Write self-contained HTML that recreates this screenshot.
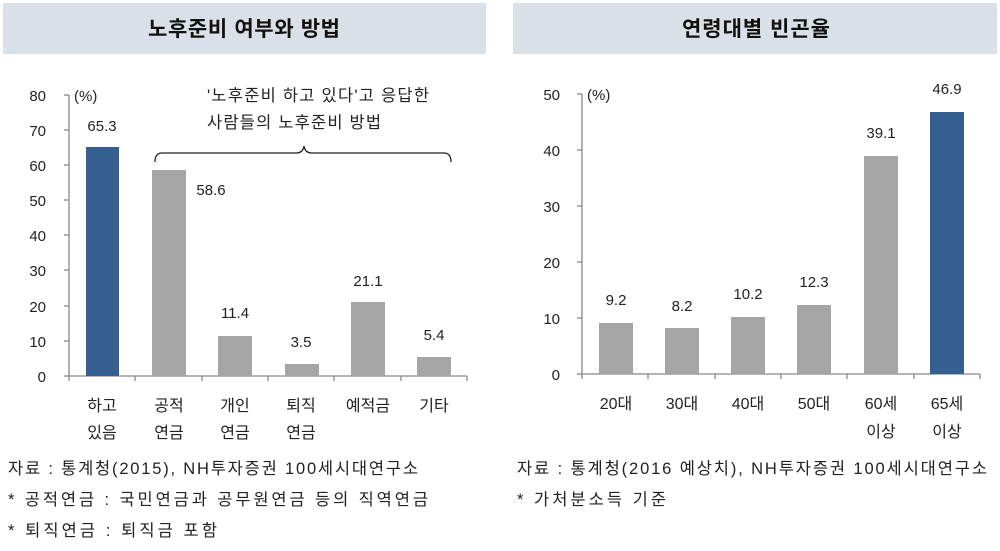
<!DOCTYPE html>
<html><head><meta charset="utf-8"><style>
body{margin:0;background:#fff;}
svg{display:block;}
</style></head><body>
<svg width="1000" height="551" xmlns="http://www.w3.org/2000/svg" font-family="'Liberation Sans','Noto Sans CJK KR',sans-serif">
<rect x="3" y="3" width="483" height="51" fill="#dae0e7"/>
<rect x="513" y="3" width="484" height="51" fill="#dae0e7"/>
<text x="148" y="36" font-size="21" font-weight="bold" fill="#111" textLength="192" lengthAdjust="spacing">노후준비 여부와 방법</text>
<text x="682" y="36" font-size="21" font-weight="bold" fill="#111" textLength="148" lengthAdjust="spacing">연령대별 빈곤율</text>
<g fill="#222" font-size="15">
<g stroke="#888" stroke-width="1.3">
<line x1="69" y1="95" x2="69" y2="376"/><line x1="69" y1="376" x2="467" y2="376"/>
<line x1="64" y1="95" x2="69" y2="95"/><line x1="64" y1="130" x2="69" y2="130"/><line x1="64" y1="165" x2="69" y2="165"/><line x1="64" y1="200" x2="69" y2="200"/><line x1="64" y1="235" x2="69" y2="235"/><line x1="64" y1="270" x2="69" y2="270"/><line x1="64" y1="306" x2="69" y2="306"/><line x1="64" y1="341" x2="69" y2="341"/><line x1="64" y1="376" x2="69" y2="376"/>
<line x1="69" y1="376" x2="69" y2="381"/><line x1="135" y1="376" x2="135" y2="381"/><line x1="202" y1="376" x2="202" y2="381"/><line x1="268" y1="376" x2="268" y2="381"/><line x1="334" y1="376" x2="334" y2="381"/><line x1="401" y1="376" x2="401" y2="381"/><line x1="467" y1="376" x2="467" y2="381"/>
</g>
<g text-anchor="end"><text x="46" y="101">80</text><text x="46" y="136">70</text><text x="46" y="171">60</text><text x="46" y="206">50</text><text x="46" y="241">40</text><text x="46" y="276">30</text><text x="46" y="312">20</text><text x="46" y="347">10</text><text x="46" y="382">0</text></g>
<text x="74" y="101">(%)</text>
<rect x="86" y="147" width="33" height="229" fill="#365f91"/>
<rect x="152" y="170" width="34" height="206" fill="#a5a5a5"/>
<rect x="218" y="336" width="34" height="40" fill="#a5a5a5"/>
<rect x="285" y="364" width="34" height="12" fill="#a5a5a5"/>
<rect x="351" y="302" width="34" height="74" fill="#a5a5a5"/>
<rect x="417" y="357" width="34" height="19" fill="#a5a5a5"/>
<g text-anchor="middle"><text x="102" y="131">65.3</text><text x="211" y="195">58.6</text><text x="235" y="318">11.4</text><text x="301" y="347">3.5</text><text x="368" y="286">21.1</text><text x="434" y="340">5.4</text></g>
<g text-anchor="middle" font-size="16">
<text x="102" y="411">하고</text><text x="102" y="438">있음</text>
<text x="169" y="411">공적</text><text x="169" y="438">연금</text>
<text x="235" y="411">개인</text><text x="235" y="438">연금</text>
<text x="301" y="411">퇴직</text><text x="301" y="438">연금</text>
<text x="368" y="411">예적금</text><text x="434" y="411">기타</text></g>
<g font-size="16.5">
<text x="207" y="101" textLength="222" lengthAdjust="spacing">'노후준비 하고 있다'고 응답한</text>
<text x="207" y="128" textLength="174" lengthAdjust="spacing">사람들의 노후준비 방법</text>
<text x="8" y="474" textLength="410" lengthAdjust="spacing">자료 : 통계청(2015), NH투자증권 100세시대연구소</text>
<text x="8" y="505" textLength="420" lengthAdjust="spacing">*  공적연금 : 국민연금과 공무원연금 등의 직역연금</text>
<text x="8" y="536" textLength="209" lengthAdjust="spacing">*  퇴직연금 : 퇴직금 포함</text>
<text x="517" y="474" textLength="470" lengthAdjust="spacing">자료 : 통계청(2016 예상치), NH투자증권 100세시대연구소</text>
<text x="517" y="505" textLength="149" lengthAdjust="spacing">*  가처분소득 기준</text>
</g>
<path d="M155 162 Q155 153 162 153 L296 153 Q303 153 304 146 Q305 153 312 153 L444 153 Q451 153 451 162" fill="none" stroke="#222" stroke-width="1.3"/>
<g stroke="#888" stroke-width="1.3">
<line x1="582" y1="94" x2="582" y2="374"/><line x1="582" y1="374" x2="980" y2="374"/>
<line x1="577" y1="94" x2="582" y2="94"/><line x1="577" y1="150" x2="582" y2="150"/><line x1="577" y1="206" x2="582" y2="206"/><line x1="577" y1="262" x2="582" y2="262"/><line x1="577" y1="318" x2="582" y2="318"/><line x1="577" y1="374" x2="582" y2="374"/>
<line x1="582" y1="374" x2="582" y2="379"/><line x1="648" y1="374" x2="648" y2="379"/><line x1="715" y1="374" x2="715" y2="379"/><line x1="781" y1="374" x2="781" y2="379"/><line x1="847" y1="374" x2="847" y2="379"/><line x1="914" y1="374" x2="914" y2="379"/><line x1="980" y1="374" x2="980" y2="379"/>
</g>
<g text-anchor="end"><text x="560" y="100">50</text><text x="560" y="156">40</text><text x="560" y="212">30</text><text x="560" y="268">20</text><text x="560" y="324">10</text><text x="560" y="380">0</text></g>
<text x="587" y="100">(%)</text>
<rect x="599" y="323" width="34" height="51" fill="#a5a5a5"/>
<rect x="665" y="328" width="34" height="46" fill="#a5a5a5"/>
<rect x="731" y="317" width="34" height="57" fill="#a5a5a5"/>
<rect x="797" y="305" width="34" height="69" fill="#a5a5a5"/>
<rect x="864" y="156" width="34" height="218" fill="#a5a5a5"/>
<rect x="930" y="112" width="34" height="262" fill="#365f91"/>
<g text-anchor="middle"><text x="616" y="305">9.2</text><text x="682" y="311">8.2</text><text x="748" y="299">10.2</text><text x="814" y="287">12.3</text><text x="881" y="138">39.1</text><text x="947" y="94">46.9</text></g>
<g text-anchor="middle" font-size="16">
<text x="616" y="409">20대</text><text x="682" y="409">30대</text><text x="748" y="409">40대</text><text x="814" y="409">50대</text>
<text x="881" y="409">60세</text><text x="881" y="437">이상</text><text x="947" y="409">65세</text><text x="947" y="437">이상</text></g>
</g>
</svg>
</body></html>
